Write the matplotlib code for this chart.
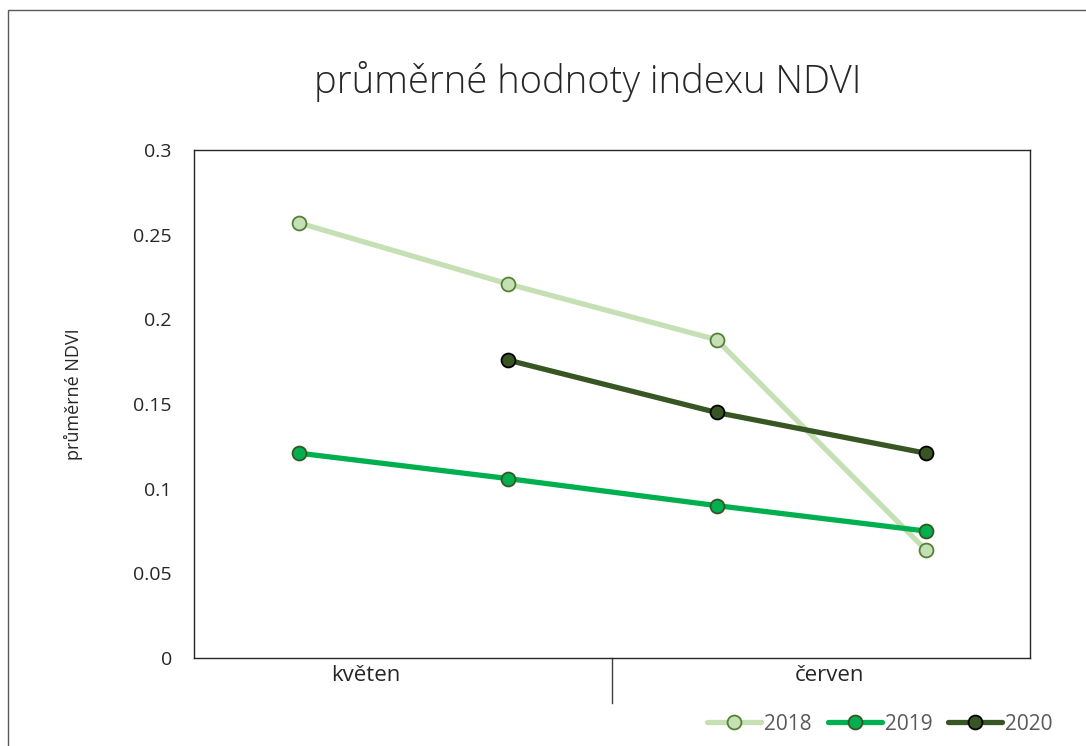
import matplotlib
matplotlib.use("Agg")
import matplotlib.pyplot as plt
import numpy as np
from matplotlib.patches import Rectangle

plt.rcParams['font.family'] = ['Open Sans', 'DejaVu Sans']

points = ["1", "2", "3", "4"]
months = ["květen", "červen"]
series_names = ["2018", "2019", "2020"]
v2018 = [0.257, 0.221, 0.188, 0.064]
v2019 = [0.121, 0.106, 0.090, 0.075]
v2020 = [np.nan, 0.176, 0.145, 0.121]
yticks = [0, 0.05, 0.1, 0.15, 0.2, 0.25, 0.3]
ytick_labels = ["0", "0.05", "0.1", "0.15", "0.2", "0.25", "0.3"]

W, H = 1086, 746
fig = plt.figure(figsize=(W / 100, H / 100), dpi=100)
fig.patches.append(Rectangle((8 / W, -0.1), 1.2, 1 - 10 / H + 0.1, transform=fig.transFigure,
                             fill=False, edgecolor='#595959', linewidth=1.0))

ax = fig.add_axes([194 / W, (H - 658) / H, 836 / W, 508 / H])
x = np.arange(len(points))

styles = [
    dict(color='#C5E0B4', mfc='#C5E0B4', mec='#538135'),
    dict(color='#00B050', mfc='#00B050', mec='#375623'),
    dict(color='#375623', mfc='#375623', mec='#000000'),
]
for vals, name, st in zip([v2018, v2019, v2020], series_names, styles):
    ax.plot(x, vals, color=st['color'], lw=3.8, marker='o', markersize=10,
            markerfacecolor=st['mfc'], markeredgecolor=st['mec'], markeredgewidth=1.3,
            label=name, solid_capstyle='round')

ax.set_xlim(-0.5, 3.5)
ax.set_ylim(0, 0.3)
ax.set_yticks(yticks)
ax.set_yticklabels(ytick_labels, fontsize=14, color='#262626')
ax.tick_params(axis='y', length=0, pad=16)
ax.set_xticks([])
for s in ax.spines.values():
    s.set_color('#262626')
    s.set_linewidth(1.0)

# month group labels and divider
month_pos = [0.32, 2.54]
for m, p in zip(months, month_pos):
    ax.text(p, -0.0105, m, ha='center', va='center', fontsize=16, color='#262626',
            clip_on=False)
ax.plot([1.5, 1.5], [0, -0.0265], color='#404040', lw=1.0, clip_on=False)

ax.set_ylabel("průměrné NDVI", fontsize=13, color='#262626')
ax.yaxis.set_label_coords(-0.133, 0.52)

fig.text(588 / W, 1 - 82 / H, "průměrné hodnoty indexu NDVI", ha='center', va='center',
         fontsize=27.5, fontweight='light', color='#262626')

leg = fig.legend(loc='center', bbox_to_anchor=(880 / W, 1 - 724 / H), ncol=3, frameon=False,
                 fontsize=15, handlelength=2.6, columnspacing=0.75, handletextpad=0.15)
for t in leg.get_texts():
    t.set_color('#595959')

fig.savefig("out.png", dpi=100)
